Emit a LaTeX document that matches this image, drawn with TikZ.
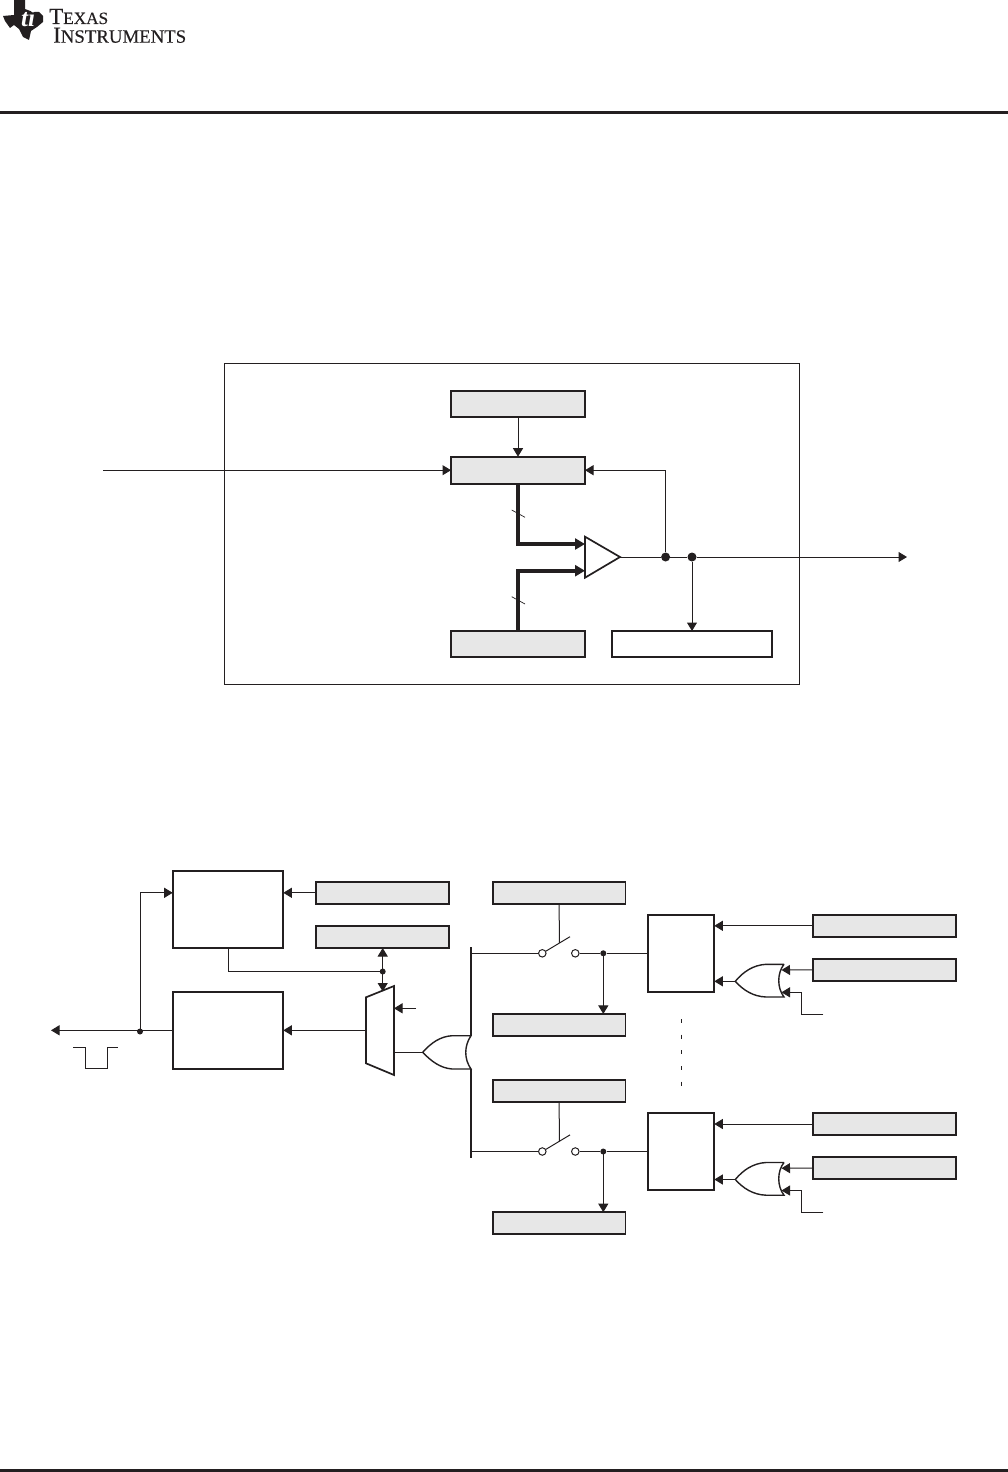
\documentclass[tikz,border=0pt]{standalone}
\usepackage{fontspec}
\setmainfont{Liberation Serif}
\newfontfamily\logofont[FakeBold=0.25]{Liberation Serif}
\usepackage{tikz}
\usetikzlibrary{positioning,arrows.meta,calc}
\definecolor{inkblack}{HTML}{231F20}
\definecolor{regfill}{HTML}{E7E7E7}
\tikzset{
  flowarrow/.style={-{Triangle[length=8.5pt,width=10pt]}, line width=1pt, draw=inkblack},
  twoarrow/.style={{Triangle[length=8.5pt,width=10pt]}-{Triangle[length=8.5pt,width=10pt]}, line width=1pt, draw=inkblack},
  wire/.style={line width=1pt, draw=inkblack},
  buswire/.style={-{Triangle[length=10pt,width=11pt]}, line width=4pt, draw=inkblack},
  regbox/.style={draw=inkblack, line width=1.7pt, fill=regfill, outer sep=0pt, inner sep=0pt},
  plainbox/.style={draw=inkblack, line width=1.7pt, fill=white, outer sep=0pt, inner sep=0pt},
  gate/.style={line width=1.7pt, draw=inkblack, fill=white, line join=miter},
  joint/.style={circle, fill=inkblack, inner sep=0pt, minimum size=9pt},
  smalljoint/.style={circle, fill=inkblack, inner sep=0pt, minimum size=6pt},
  contact/.style={circle, draw=inkblack, line width=1pt, fill=white, inner sep=0pt, minimum size=7.5pt},
  logotext/.style={anchor=base west, inner sep=0pt, text=inkblack, align=left, font=\logofont\fontsize{23}{18.7}\selectfont}
}
\begin{document}
\begin{tikzpicture}[x=1pt, y=-1pt, >=Latex]
  \useasboundingbox (0,0) rectangle (1008,1472);
  % header and footer
  \node[fill=inkblack, minimum width=1008pt, minimum height=3pt, inner sep=0pt] (headrule) at (504,112) {};
  \node[fill=inkblack, minimum width=1008pt, minimum height=3pt, inner sep=0pt] (footrule) at (504,1470) {};
  \fill[inkblack] (3,16) -- (14,15) -- (14,0) -- (25,0) -- (25,9) -- (33,12) -- (39,12) -- (43,16) -- (43,22) -- (37,27) -- (31,31) -- (29,40) -- (23,37) -- (19,29) -- (14,25) -- (10,28) -- (5,21) -- cycle;
  \node[white, font=\bfseries\itshape\fontsize{25}{25}\selectfont, inner sep=0pt] (logoti) at (28,18) {ti};
  \node[logotext] (logoname) at (49,42.7) {T{\fontsize{17.2}{18.7}\selectfont EXAS}\\\hspace*{4pt}I{\fontsize{18.8}{18.7}\selectfont NSTRUMENTS}};

  % upper figure
  \node[draw=inkblack, line width=1pt, minimum width=575.5pt, minimum height=320.5pt, outer sep=0pt, inner sep=0pt] (frame) at (511.8,523.8) {};
  \node[regbox, minimum width=134pt, minimum height=26pt] (cmpctl) at (518,404) {};
  \node[regbox, minimum width=134pt, minimum height=27pt] (cmpreg) at (518,470.2) {};
  \node[regbox, minimum width=134pt, minimum height=26pt] (shadow) at (518,644) {};
  \node[plainbox, minimum width=160.6pt, minimum height=26pt] (status) at (692,644) {};
  \coordinate (ampa) at (585,536.7);
  \coordinate (ampb) at (585,577.7);
  \coordinate (ampc) at (620,557);
  \coordinate (ampin1) at (585,544);
  \coordinate (ampin2) at (585,570.7);
  \coordinate (insrc) at (103,470.2);
  \coordinate (outend) at (907,557);
  \node[joint] (jfeed) at (665.6,557) {};
  \node[joint] (jstat) at (692,557) {};
  \draw[flowarrow] (cmpctl) -- (cmpreg);
  \draw[flowarrow] (insrc) -- (cmpreg.west);
  \draw[buswire] (cmpreg.south) |- (ampin1);
  \draw[buswire] (shadow.north) |- (ampin2);
  \draw[gate] (ampa) -- (ampc) -- (ampb) -- cycle;
  \draw[wire] (ampc) -- (jfeed) -- (jstat);
  \draw[flowarrow] (jstat) -- (outend);
  \draw[flowarrow] (jfeed) |- (cmpreg.east);
  \draw[flowarrow] (jstat) -- (status.north -| jstat);
  \draw[wire, line width=.7pt] (511.7,510) -- (525,517.3);
  \draw[wire, line width=.7pt] (511.7,596.7) -- (525,604);

  % lower figure, left part
  \node[plainbox, minimum width=110.6pt, minimum height=77.3pt] (wdgen) at (228,909.3) {};
  \node[plainbox, minimum width=110.6pt, minimum height=77.3pt] (pulse) at (228,1030.3) {};
  \node[regbox, minimum width=133.3pt, minimum height=22.3pt] (wdsel) at (382.3,892.8) {};
  \node[regbox, minimum width=133.3pt, minimum height=22pt] (flags) at (382.3,937) {};
  \coordinate (muxa) at (366,997.3);
  \coordinate (muxb) at (394,986);
  \coordinate (muxc) at (394,1075);
  \coordinate (muxd) at (366,1063.3);
  \coordinate (muxtop) at (382.7,991.5);
  \coordinate (muxsel) at (416,1008.3);
  \coordinate (outpin) at (51,1030.3);
  \node[smalljoint] (jmux) at (382.7,971.5) {};
  \node[smalljoint] (jpin) at (140,1031.5) {};
  \draw[flowarrow] (wdsel) -- (wdgen.east |- wdsel);
  \draw[wire] ($(wdgen.south)+(.3,0)$) |- (jmux);
  \draw[gate, fill=white] (muxa) -- (muxb) -- (muxc) -- (muxd) -- cycle;
  \draw[twoarrow] (jmux |- flags.south) -- (muxtop);
  \draw[flowarrow] (muxsel) -- (muxb |- muxsel);
  \draw[flowarrow] (muxa |- pulse) -- (pulse.east);
  \draw[flowarrow] (pulse.west) -- (outpin);
  \draw[flowarrow] (jpin.center |- pulse) |- (wdgen.west |- wdsel);
  \draw[wire] (73.3,1047.3) -- (85.3,1047.3) -- (85.3,1068.7) -- (107.3,1068.7) -- (107.3,1047.3) -- (118.3,1047.3);
  % or gate and bus
  \coordinate (ortip) at (422.7,1052.3);
  \coordinate (bustop) at (471,947);
  \coordinate (orbacka) at (471,1035.7);
  \coordinate (orbackb) at (471,1069);
  \coordinate (busend) at (471,1158);
  \draw[wire] (muxc |- ortip) -- (ortip);
  \draw[gate, line width=1.4pt] (orbacka) -- (452,1035.7) .. controls (440,1036.5) and (431,1043) .. (ortip) .. controls (431,1061) and (440,1068) .. (452,1069) -- (orbackb) .. controls (464,1059) and (464,1046) .. (orbacka);
  \draw[wire, line width=1.7pt] (bustop) -- (orbacka);
  \draw[wire, line width=1.7pt] (orbackb) -- (busend);

  % lower figure, the channels
  \foreach \n/\dy in {one/0, two/198.2} {
    \begin{scope}[yshift=-\dy pt]
      \node[regbox, minimum width=132.6pt, minimum height=22.3pt] (swreg\n) at (559.2,892.8) {};
      \node[regbox, minimum width=132.6pt, minimum height=21.7pt] (flag\n) at (559.2,1024.8) {};
      \node[plainbox, minimum width=66.6pt, minimum height=77.3pt] (chan\n) at (681,953.3) {};
      \node[regbox, minimum width=143.6pt, minimum height=22.3pt] (ena\n) at (884.5,925.8) {};
      \node[regbox, minimum width=143.6pt, minimum height=21.7pt] (sft\n) at (884.5,969.8) {};
      \node[contact] (swa\n) at (542.3,953.3) {};
      \node[contact] (swb\n) at (575.3,953.3) {};
      \node[smalljoint] (jsw\n) at (603.3,953.3) {};
      \coordinate (blade\n) at (570,936.7);
      \coordinate (bladeb\n) at (559.3,942.8);
      \coordinate (busin\n) at (471,953.3);
      \coordinate (chout\n) at (714.3,981.3);
      \coordinate (gtip\n) at (735.3,981.3);
      \coordinate (gin\n) at (781.5,970);
      \coordinate (gfoot\n) at (801.3,992.3);
      \coordinate (gend\n) at (823.3,1014.3);
      \draw[wire] (swreg\n.south) -- (bladeb\n);
      \draw[wire] (swa\n) -- (blade\n);
      \draw[wire] (busin\n) -- (swa\n);
      \draw[wire] (swb\n) -- (jsw\n) -- (chan\n.west);
      \draw[flowarrow] (jsw\n.center) -- (jsw\n.center |- flag\n.north);
      \draw[flowarrow] (ena\n) -- (chan\n.east |- ena\n);
      \draw[gate, line width=1.4pt] (784,964.3) -- (766,964.3) .. controls (753,965) and (743,972) .. (gtip\n) .. controls (743,990) and (753,996.5) .. (766,997) -- (784,997) .. controls (777,988) and (777,973) .. (784,964.3);
      \draw[flowarrow] (gtip\n) -- (chout\n);
      \draw[flowarrow] (sft\n.west) -- (gin\n);
      \draw[flowarrow] (gend\n) -| (gfoot\n) -- (781.5,992.3);
    \end{scope}
  }
  % dots between the channels
  \foreach \i/\py in {1/1021, 2/1036.7, 3/1052.3, 4/1068, 5/1083.7} {
    \draw[wire] (681.7,\py-2) -- (681.7,\py+2);
  }
\end{tikzpicture}
\end{document}
